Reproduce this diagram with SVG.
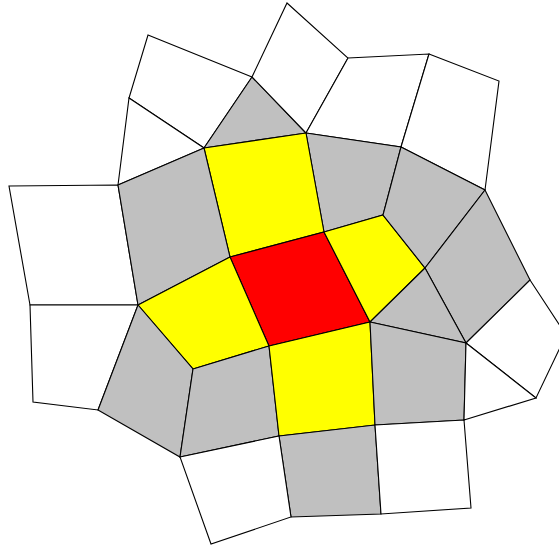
<svg xmlns="http://www.w3.org/2000/svg" width="559" height="549" viewBox="0 0 559 549">
<style>
polygon{stroke:#000;stroke-width:1.1;stroke-linejoin:miter}
.w{fill:#fff}.g{fill:#c0c0c0}.y{fill:#ffff00}.r{fill:#ff0000}
</style>
<rect width="559" height="549" fill="#fff"/>
<g id="tiles">
<polygon class="w" points="148,35 252,77 204,148 129,98"/>
<polygon class="w" points="129,98 204,148 118,185"/>
<polygon class="g" points="252,77 306,133 204,148"/>
<polygon class="w" points="287,3 348,58 306,133 252,77"/>
<polygon class="w" points="348,58 429,54 401,147 306,133"/>
<polygon class="w" points="429,54 499,81 485,190 401,147"/>
<polygon class="w" points="9,186 118,185 138,305 30,305"/>
<polygon class="w" points="30,305 138,305 98,410 33,402"/>
<polygon class="g" points="306,133 401,147 383,215 324,232"/>
<polygon class="y" points="204,148 306,133 324,232 230,257"/>
<polygon class="g" points="118,185 204,148 230,257 138,305"/>
<polygon class="r" points="230,257 324,232 370,322 269,346"/>
<polygon class="y" points="324,232 383,215 425,268 370,322"/>
<polygon class="g" points="401,147 485,190 425,268 383,215"/>
<polygon class="g" points="485,190 530,280 466,343 425,268"/>
<polygon class="g" points="425,268 466,343 370,322"/>
<polygon class="y" points="138,305 230,257 269,346 193,369"/>
<polygon class="g" points="138,305 193,369 180,457 98,410"/>
<polygon class="g" points="193,369 269,346 279,436 180,457"/>
<polygon class="y" points="269,346 370,322 375,425 279,436"/>
<polygon class="g" points="370,322 466,343 464,420 375,425"/>
<polygon class="g" points="279,436 375,425 381,514 291,517"/>
<polygon class="w" points="375,425 464,420 471,508 381,514"/>
<polygon class="w" points="530,280 566,335 536,398 466,343"/>
<polygon class="w" points="466,343 536,398 464,420"/>
<polygon class="w" points="180,457 279,436 291,517 211,544"/>
</g>
</svg>
